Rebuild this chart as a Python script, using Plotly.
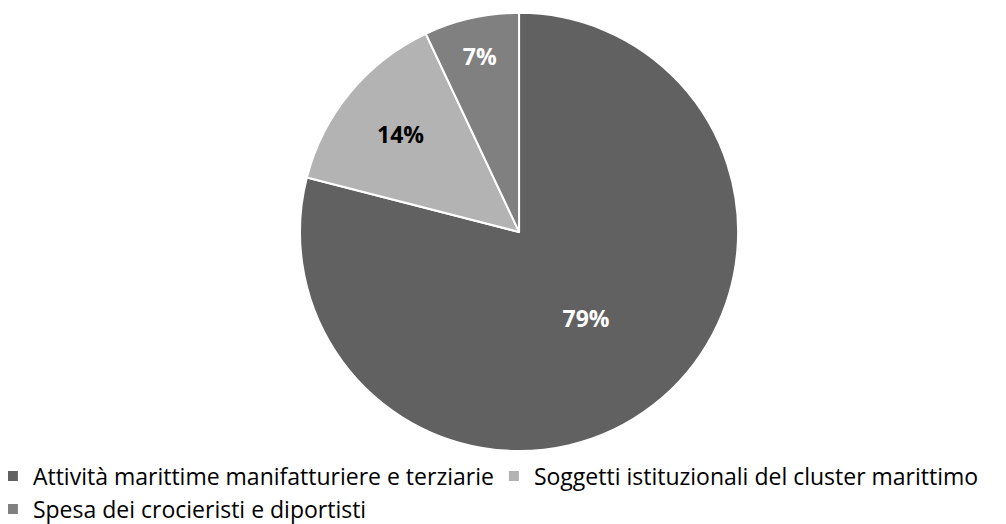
import plotly.graph_objects as go

# categorie e quote
labels = ['Attività marittime manifatturiere e terziarie',
          'Soggetti istituzionali del cluster marittimo',
          'Spesa dei crocieristi e diportisti']
values = [79, 14, 7]
colors = ['#616161', '#b3b3b3', '#808080']
text_colors = ['white', 'black', 'white']

fig = go.Figure()

fig.add_trace(go.Pie(labels=labels, values=values, sort=False, direction='clockwise', rotation=0,
                     marker=dict(colors=colors, line=dict(color='white', width=2)),
                     textinfo='percent', texttemplate='<b>%{percent:.0%}</b>', textposition='inside',
                     insidetextorientation='horizontal',
                     textfont=dict(family='Open Sans', size=23, color=text_colors),
                     domain=dict(x=[0.290, 0.726], y=[0.0, 0.989])))

# legenda sotto l'area del grafico, senza espansione dei margini
fig.update_layout(width=1006, height=524, margin=dict(l=0, r=0, t=0, b=81, autoexpand=False),
                  paper_bgcolor='white', plot_bgcolor='white',
                  font=dict(family='Open Sans', size=23, color='black'),
                  legend=dict(orientation='h', x=-0.015, xanchor='left', y=-0.008, yanchor='top',
                              entrywidth=456, entrywidthmode='pixels',
                              font=dict(family='Open Sans', size=23)))

fig.write_html("out.html")
